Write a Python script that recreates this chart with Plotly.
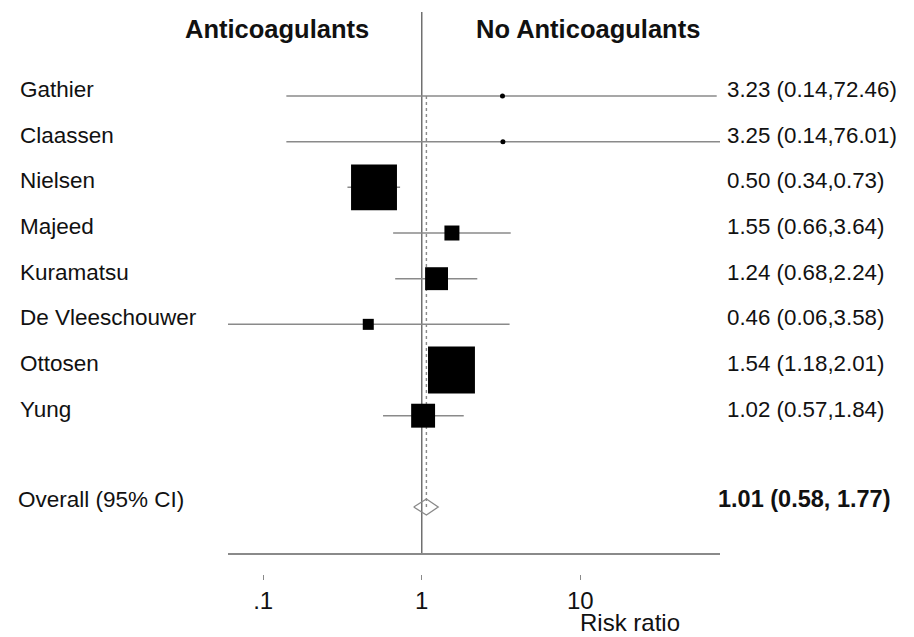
import numpy as np
import plotly.graph_objects as go

# ---------------- data ----------------
studies = ["Gathier", "Claassen", "Nielsen", "Majeed", "Kuramatsu",
           "De Vleeschouwer", "Ottosen", "Yung"]
rr = [3.23, 3.25, 0.50, 1.55, 1.24, 0.46, 1.54, 1.02]
ci_lo = [0.14, 0.14, 0.34, 0.66, 0.68, 0.06, 1.18, 0.57]
ci_hi = [72.46, 76.01, 0.73, 3.64, 2.24, 3.58, 2.01, 1.84]
weights = [0.16, 0.16, 36.5, 3.9, 9.1, 2.1, 38.1, 9.9]

overall_label = "Overall (95% CI)"
overall_text = "1.01 (0.58, 1.77)"
diamond_center = 1.07   # as drawn in the picture
diamond_lo = 0.89
diamond_hi = 1.27

tick_vals = [0.1, 1, 10]
tick_text = [".1", "1", "10"]
x_title = "Risk ratio"
left_header = "Anticoagulants"
right_header = "No Anticoagulants"

# ---------------- layout helpers ----------------
W, H = 914, 637
FONT = "Liberation Sans, Arial, Helvetica, sans-serif"
TXT = "#111111"
GRAY = "#8a8a8a"
rows = list(range(1, len(studies) + 1))
overall_row = len(studies) + 2

fig = go.Figure()

# CI lines
xs, ys = [], []
for r, a, b in zip(rows, ci_lo, ci_hi):
    xs += [a, b, None]
    ys += [r, r, None]
fig.add_trace(go.Scatter(x=xs, y=ys, mode="lines",
                         line=dict(color=GRAY, width=1.5),
                         hoverinfo="skip", showlegend=False))

# overall dashed line
fig.add_trace(go.Scatter(x=[diamond_center, diamond_center], y=[rows[0], overall_row],
                         mode="lines", line=dict(color=GRAY, width=1.4, dash="3px,3px"),
                         hoverinfo="skip", showlegend=False))

# weight boxes
box_sizes = [7.6 * np.sqrt(w) for w in weights]
fig.add_trace(go.Scatter(x=rr, y=rows, mode="markers",
                         marker=dict(symbol="square", size=box_sizes, color="black",
                                     opacity=1, line=dict(width=0)),
                         hoverinfo="skip", showlegend=False))
# point estimate dots
fig.add_trace(go.Scatter(x=rr, y=rows, mode="markers",
                         marker=dict(symbol="circle", size=5, color="black",
                                     opacity=1, line=dict(width=0)),
                         hoverinfo="skip", showlegend=False))

# overall diamond
h = 0.175
fig.add_trace(go.Scatter(
    x=[diamond_lo, diamond_center, diamond_hi, diamond_center, diamond_lo],
    y=[overall_row, overall_row - h, overall_row, overall_row + h, overall_row],
    mode="lines", line=dict(color=GRAY, width=1.3),
    fill="toself", fillcolor="rgba(255,255,255,0)",
    hoverinfo="skip", showlegend=False))

# dummy trace for the tick axis
fig.add_trace(go.Scatter(x=tick_vals, y=[None] * len(tick_vals), xaxis="x2", yaxis="y",
                         mode="markers", hoverinfo="skip", showlegend=False))

# no-effect line at 1
fig.add_shape(type="line", xref="x", yref="y domain", x0=1, x1=1, y0=0, y1=1,
              line=dict(color="#707070", width=1.5), layer="below")

# plot-area geometry (pixels)
l_m, r_m, t_m, b_m = 228, 194, 12, 63
plot_w = W - l_m - r_m
plot_h = H - t_m - b_m
axis_line_px = 553
row_px0, row_step = 96, 45.67


def px_to_paper_x(px):
    return (px - l_m) / plot_w


def px_to_paper_y(py):
    return (H - b_m - py) / plot_h


y_top = 1 - (row_px0 - t_m) / row_step
y_bot = 1 + (axis_line_px - row_px0) / row_step
xr = [np.log10(min(ci_lo)), np.log10(max(ci_hi))]

annotations = []
# headers
annotations.append(dict(text="<b>%s</b>" % left_header, xref="paper", yref="paper",
                        x=px_to_paper_x(277), y=px_to_paper_y(29), showarrow=False,
                        xanchor="center", yanchor="middle",
                        font=dict(size=25.5, family=FONT, color=TXT)))
annotations.append(dict(text="<b>%s</b>" % right_header, xref="paper", yref="paper",
                        x=px_to_paper_x(587.5), y=px_to_paper_y(29), showarrow=False,
                        xanchor="center", yanchor="middle",
                        font=dict(size=25.5, family=FONT, color=TXT)))
# study labels and estimates
for r, s, e, a, b in zip(rows, studies, rr, ci_lo, ci_hi):
    annotations.append(dict(text=s, xref="paper", yref="y", x=px_to_paper_x(18), y=r,
                            yshift=6.5, showarrow=False, xanchor="left", yanchor="middle",
                            font=dict(size=22.5, family=FONT, color=TXT)))
    annotations.append(dict(text="%.2f (%.2f,%.2f)" % (e, a, b), xref="paper", yref="y",
                            x=px_to_paper_x(725), y=r, yshift=6.5, showarrow=False,
                            xanchor="left", yanchor="middle",
                            font=dict(size=22.3, family=FONT, color=TXT)))
annotations.append(dict(text=overall_label, xref="paper", yref="y", x=px_to_paper_x(16),
                        y=overall_row, yshift=8, showarrow=False, xanchor="left",
                        yanchor="middle", font=dict(size=22.5, family=FONT, color=TXT)))
annotations.append(dict(text="<b>%s</b>" % overall_text, xref="paper", yref="y",
                        x=px_to_paper_x(716), y=overall_row, yshift=8, showarrow=False,
                        xanchor="left", yanchor="middle",
                        font=dict(size=23.5, family=FONT, color=TXT)))
# axis title
annotations.append(dict(text=x_title, xref="x", yref="paper", x=np.log10(tick_vals[-1]),
                        y=px_to_paper_y(622), showarrow=False, xanchor="left",
                        yanchor="middle", xshift=-2,
                        font=dict(size=24, family=FONT, color=TXT)))

fig.update_layout(
    width=W, height=H,
    margin=dict(l=l_m, r=r_m, t=t_m, b=b_m, pad=0),
    paper_bgcolor="white", plot_bgcolor="white",
    showlegend=False,
    xaxis=dict(type="log", range=xr, showline=True, linecolor=GRAY, linewidth=1.5,
               showticklabels=False, ticks="", showgrid=False, zeroline=False,
               anchor="y", fixedrange=True),
    xaxis2=dict(type="log", range=xr, overlaying="x", anchor="free", position=0,
                side="bottom", showline=False, showgrid=False, zeroline=False,
                ticks="outside", ticklen=5, tickwidth=1, tickcolor=GRAY,
                tickmode="array", tickvals=tick_vals, ticktext=tick_text,
                tickfont=dict(size=24, family=FONT, color=TXT), fixedrange=True),
    yaxis=dict(range=[y_bot, y_top], domain=[(H - b_m - axis_line_px) / plot_h, 1],
               visible=False, showgrid=False, zeroline=False, fixedrange=True),
    annotations=annotations,
)

fig.write_html("out.html")
